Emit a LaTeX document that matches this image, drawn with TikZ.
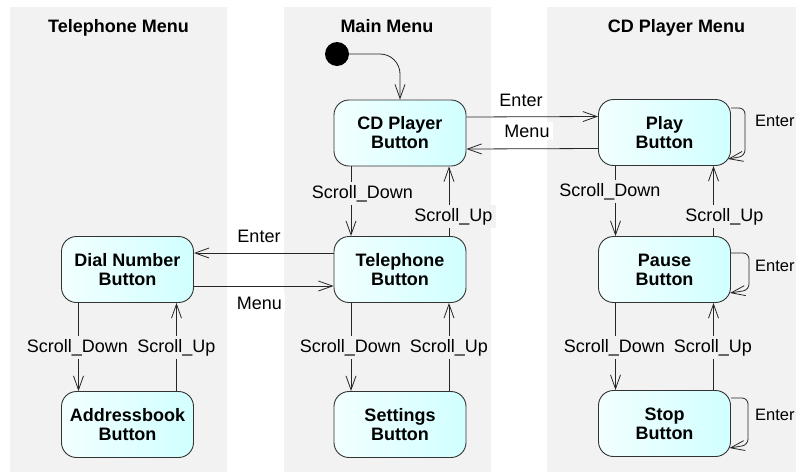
\documentclass[tikz,border=0pt]{standalone}
\usepackage{fontspec}
\setmainfont{Liberation Sans}
\usetikzlibrary{arrows.meta}
\begin{document}
\begin{tikzpicture}[x=1pt,y=-1pt,
  panel/.style={fill=gray!10},
  btn/.style={draw=black!80, line width=0.9pt, rounded corners=15pt,
    minimum width=132pt, minimum height=66pt, left color=cyan!5, right color=cyan!18,
    align=center, font=\fontsize{18}{19}\selectfont\bfseries, inner sep=0pt},
  title/.style={font=\fontsize{18}{19}\selectfont\bfseries, anchor=base},
  lbl/.style={font=\fontsize{18}{19}\selectfont, anchor=base, inner sep=3pt, fill=gray!10},
  wlbl/.style={lbl, fill=white},
  looplbl/.style={font=\fontsize{16.5}{18}\selectfont, anchor=base west, inner sep=0pt},
  arr/.style={draw=black!85, line width=0.8pt, -{Straight Barb[length=14pt,width=10pt]}},
]
\useasboundingbox (0,0) rectangle (796,472);
\clip (0,0) rectangle (796,472);
\fill[white] (0,0) rectangle (796,472);
% panels
\fill[panel] (10,7) rectangle (227,472);
\fill[panel] (284,7) rectangle (491,472);
\fill[panel] (547,7) rectangle (796,472);
% titles
\node[title] (t1) at (118.5,32) {Telephone Menu};
\node[title] (t2) at (387,32) {Main Menu};
\node[title] (t3) at (676.5,32) {CD Player Menu};
% states
\node[btn] (cd) at (400,133) {CD Player\\Button};
\node[btn] (tel) at (400,269.5) {Telephone\\Button};
\node[btn] (set) at (400,424.5) {Settings\\Button};
\node[btn] (dial) at (127.5,269.5) {Dial Number\\Button};
\node[btn] (addr) at (127.5,424.5) {Addressbook\\Button};
\node[btn] (play) at (664.5,132.5) {Play\\Button};
\node[btn] (pause) at (664.5,269.5) {Pause\\Button};
\node[btn] (stop) at (664.5,423.5) {Stop\\Button};
% initial
\node[circle, fill=black, minimum size=24pt, inner sep=0pt] (init) at (337,54) {};
\draw[arr, rounded corners=20pt] (init) -- (400,54) -- (cd.north);
% horizontal transitions
\draw[arr] ([yshift=16pt]cd.east) -- ([yshift=16pt]play.west);
\draw[arr] ([yshift=-16pt]play.west) -- ([yshift=-16pt]cd.east);
\draw[arr] ([yshift=16.5pt]tel.west) -- ([yshift=16.5pt]dial.east);
\draw[arr] ([yshift=-16.5pt]dial.east) -- ([yshift=-16.5pt]tel.west);
% vertical transitions
\draw[arr] ([xshift=-49pt]cd.south) -- ([xshift=-49pt]tel.north);
\draw[arr] ([xshift=49pt]tel.north) -- ([xshift=49pt]cd.south);
\draw[arr] ([xshift=-49pt]tel.south) -- ([xshift=-49pt]set.north);
\draw[arr] ([xshift=49pt]set.north) -- ([xshift=49pt]tel.south);
\draw[arr] ([xshift=-49pt]dial.south) -- ([xshift=-49pt]addr.north);
\draw[arr] ([xshift=49pt]addr.north) -- ([xshift=49pt]dial.south);
\draw[arr] ([xshift=-49pt]play.south) -- ([xshift=-49pt]pause.north);
\draw[arr] ([xshift=49pt]pause.north) -- ([xshift=49pt]play.south);
\draw[arr] ([xshift=-49pt]pause.south) -- ([xshift=-49pt]stop.north);
\draw[arr] ([xshift=49pt]stop.north) -- ([xshift=49pt]pause.south);
% self loops
\draw[arr, rounded corners=6pt] ([yshift=24.5pt]play.east) -- (745,108) -- (745,156) -- ([shift={(-3pt,-26.5pt)}]play.east);
\draw[arr, rounded corners=6pt] ([yshift=16.5pt]pause.east) -- (749,253) -- (749,290) -- ([shift={(-1pt,-23.5pt)}]pause.east);
\draw[arr, rounded corners=6pt] ([yshift=25.5pt]stop.east) -- (748,398) -- (748,445) -- ([shift={(-1.5pt,-24.5pt)}]stop.east);
% labels
\node[wlbl] (l1) at (521,106) {Enter};
\node[wlbl] (l2) at (527,137) {Menu};
\node[wlbl] (l3) at (259,242) {Enter};
\node[wlbl] (l4) at (259.5,309) {Menu};
\node[lbl] (l5) at (362.5,198) {Scroll\_Down};
\node[lbl] (l6) at (453.5,221) {Scroll\_Up};
\node[lbl] (l7) at (350.5,352) {Scroll\_Down};
\node[lbl] (l8) at (449,352) {Scroll\_Up};
\node[lbl] (l9) at (77.5,352) {Scroll\_Down};
\node[lbl] (l10) at (176.5,352) {Scroll\_Up};
\node[lbl] (l11) at (610,196) {Scroll\_Down};
\node[lbl] (l12) at (724.5,221) {Scroll\_Up};
\node[lbl] (l13) at (614.5,352.5) {Scroll\_Down};
\node[lbl] (l14) at (713,352.5) {Scroll\_Up};
\node[looplbl] (l15) at (755,126.5) {Enter};
\node[looplbl] (l16) at (755,271) {Enter};
\node[looplbl] (l17) at (755,420.5) {Enter};
\end{tikzpicture}
\end{document}
